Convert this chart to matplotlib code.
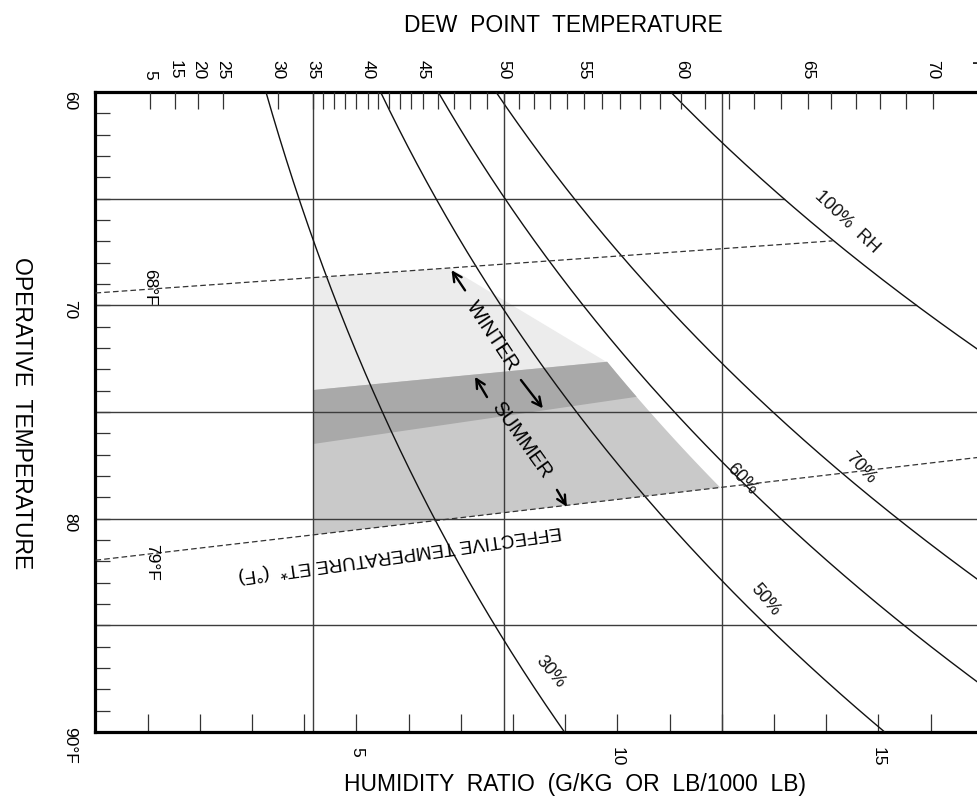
import numpy as np
import matplotlib
matplotlib.use("Agg")
import matplotlib.pyplot as plt

plt.rcParams['font.family'] = ['Liberation Sans', 'DejaVu Sans']

# ---------------- chart values ----------------
# relative humidity curves (fraction) and their labels
rh_curves = [0.30, 0.50, 0.60, 0.70, 1.00]
rh_labels = ['30%', '50%', '60%', '70%', '100%  RH']
rh_label_pos = [(8.71, 87.2), (12.83, 83.8), (12.38, 78.17), (14.65, 77.62), (14.39, 66.1)]
rh_label_rot = [-50, -50, -47, -47, -43.5]

# operative temperature grid (deg F) and humidity ratio grid (g/kg)
temp_grid = [65, 70, 75, 80, 85]
ratio_grid = [4.17, 7.83, 12.0]

# dew point scale: labelled dew points (deg F) and their humidity ratio (g/kg)
dew_f = [5, 15, 20, 25, 30, 35, 40, 45, 50, 55, 60, 65, 70]
dew_w = [1.04, 1.52, 1.97, 2.44, 3.50, 4.17, 5.22, 6.28, 7.83, 9.35, 11.22, 13.65, 16.04]

# effective temperature lines: T = t_left + slope * (W - lower_ratio_limit)
et_values = [68, 79]
et_t_at_left = [68.7, 80.76]
et_slopes = [-0.173, -0.285]

# comfort zone limits
lower_ratio_limit = 4.17          # dew point 35 F
summer_rh_limit = 0.575           # upper humidity limit (relative humidity)
winter_limit_point = (6.83, 68.3) # winter upper humidity limit (W, T) ...
winter_limit_slope = 0.68         # ... and its slope dW/dT (g/kg per F)
summer_cool_edge = (73.97, -0.235)
winter_warm_edge = (76.5, -0.357)

W_MAX = 17.0
P_ATM = 101.325


def psat(t_f):
    tc = (np.asarray(t_f, dtype=float) - 32.0) / 1.8
    return 0.61094 * np.exp(17.625 * tc / (tc + 243.04))


def ratio_at_rh(t_f, rh):
    pw = rh * psat(t_f)
    return 622.0 * pw / (P_ATM - pw)


def summer_limit(t_f):
    return ratio_at_rh(t_f, summer_rh_limit)


def winter_limit(t_f):
    line = winter_limit_point[0] + winter_limit_slope * (np.asarray(t_f, dtype=float) - winter_limit_point[1])
    return np.minimum(line, summer_limit(t_f))


def edge_temp(edge, w):
    t0, s = edge
    return t0 + s * (np.asarray(w, dtype=float) - lower_ratio_limit)


def cross(edge, limit):
    lo, hi = lower_ratio_limit, 16.5
    for _ in range(80):
        mid = 0.5 * (lo + hi)
        if limit(edge_temp(edge, mid)) - mid > 0:
            lo = mid
        else:
            hi = mid
    return 0.5 * (lo + hi)


def zone_polygon(cool, warm, limit):
    w1 = cross(cool, limit)
    w2 = cross(warm, limit)
    t1 = float(edge_temp(cool, w1))
    t2 = float(edge_temp(warm, w2))
    ts = np.linspace(t1, t2, 120)
    ws = limit(ts)
    xs = [lower_ratio_limit] + list(ws) + [lower_ratio_limit]
    ys = [float(edge_temp(cool, lower_ratio_limit))] + list(ts) + [float(edge_temp(warm, lower_ratio_limit))]
    return xs, ys


et_edges = [(t, s) for t, s in zip(et_t_at_left, et_slopes)]

# ---------------- figure ----------------
fig = plt.figure(figsize=(9.78, 8.01), dpi=100)
ax = fig.add_axes([95.5 / 978, 69 / 801, 17 * 52.2 / 978, 640 / 801])
ax.set_xlim(0, W_MAX)
ax.set_ylim(90, 60)

# comfort zones: winter, summer and their overlap
xs, ys = zone_polygon(et_edges[0], winter_warm_edge, winter_limit)
ax.fill(xs, ys, color='#ececec', lw=0, zorder=1)
xs, ys = zone_polygon(summer_cool_edge, et_edges[1], summer_limit)
ax.fill(xs, ys, color='#c9c9c9', lw=0, zorder=1.1)
xs, ys = zone_polygon(summer_cool_edge, winter_warm_edge, summer_limit)
ax.fill(xs, ys, color='#a9a9a9', lw=0, zorder=1.2)

# grid lines
for t in temp_grid:
    wend = min(W_MAX, float(ratio_at_rh(t, 1.0)))
    ax.plot([0, wend], [t, t], color='#3c3c3c', lw=1.0, zorder=2)
for w in ratio_grid:
    ax.axvline(w, color='#3c3c3c', lw=1.0, zorder=2)

# relative humidity curves
tt = np.linspace(60, 90, 400)
for rh in rh_curves:
    ax.plot(ratio_at_rh(tt, rh), tt, color='#111111', lw=1.0, zorder=3)
for lab, (lw_, lt), rot in zip(rh_labels, rh_label_pos, rh_label_rot):
    ax.text(lw_, lt, lab, rotation=rot, rotation_mode='anchor', ha='center', va='center',
            fontsize=13, color='#111111', zorder=5)

# effective temperature lines (dashed)
for edge in et_edges:
    ww = np.linspace(0, W_MAX + 1, 400)
    te = edge_temp(edge, ww)
    keep = ww <= ratio_at_rh(te, 1.0)
    ax.plot(ww[keep], te[keep], color='#333333', lw=0.9, ls=(0, (4.5, 2.5)), zorder=3)

ax.text(1.04, 69.16, '68°F', rotation=-90, ha='center', va='center', fontsize=12.5, zorder=5)
ax.text(1.08, 82.05, '79°F', rotation=-90, ha='center', va='center', fontsize=12.5, zorder=5)
ax.text(5.83, 81.6, 'EFFECTIVE TEMPERATURE ET*  (°F)', rotation=188, rotation_mode='anchor',
        ha='center', va='center', fontsize=13.5, zorder=5)

# season arrows
arrow_kw = dict(arrowstyle='->', lw=1.7, color='black', shrinkA=0, shrinkB=0, mutation_scale=16)
ax.annotate('', xy=(6.82, 68.35), xytext=(7.08, 69.30), arrowprops=arrow_kw, zorder=6)
ax.annotate('', xy=(8.57, 74.83), xytext=(8.15, 73.50), arrowprops=arrow_kw, zorder=6)
ax.text(7.61, 71.42, 'WINTER', rotation=-56.5, rotation_mode='anchor', ha='center', va='center',
        fontsize=14.5, zorder=6)
ax.annotate('', xy=(7.27, 73.35), xytext=(7.50, 74.30), arrowprops=arrow_kw, zorder=6)
ax.annotate('', xy=(9.03, 79.44), xytext=(8.84, 78.65), arrowprops=arrow_kw, zorder=6)
ax.text(8.16, 76.31, 'SUMMER', rotation=-54.5, rotation_mode='anchor', ha='center', va='center',
        fontsize=14.5, zorder=6)

# frame
for side in ['top', 'left', 'bottom']:
    ax.spines[side].set_linewidth(2.3)
ax.spines['right'].set_visible(False)

# bottom scale: humidity ratio
ax.set_xticks(np.arange(1, 17))
ax.set_xticklabels(['5' if v == 5 else '10' if v == 10 else '15' if v == 15 else ''
                    for v in range(1, 17)], rotation=-90, fontsize=12.5)
ax.tick_params(axis='x', direction='in', length=13, width=0.9, pad=11, color='#333333')

# left scale: operative temperature
ax.set_yticks(np.arange(61, 90))
ax.set_yticklabels([])
ax.tick_params(axis='y', direction='in', length=10.5, width=0.9, color='#333333')
ytr = ax.get_yaxis_transform()
for t, lab in zip([60.4, 70.2, 80.2], ['60', '70', '80']):
    ax.text(-0.0287, t, lab, transform=ytr, rotation=-90, ha='center', va='center', fontsize=12.5)
ax.text(-0.0287, 89.75, '90°F', transform=ytr, rotation=-90, ha='center', va='top', fontsize=12.5)

# top scale: dew point temperature
ax2 = ax.twiny()
ax2.set_xlim(0, W_MAX)
ax2.set_xticks(dew_w)
ax2.set_xticklabels([str(d) for d in dew_f], rotation=-90, fontsize=12.5)
minor_f = [d for d in range(36, 70) if d not in dew_f]
minor_w = np.exp(np.interp(minor_f, dew_f, np.log(dew_w)))
ax2.set_xticks(minor_w, minor=True)
ax2.tick_params(axis='x', which='both', direction='in', length=12, width=0.9, pad=9, color='#333333')
for s in ax2.spines.values():
    s.set_visible(False)
fig.text(976 / 978, 1 - 63 / 801, '°F', rotation=-90, ha='center', va='center', fontsize=12.5)

# axis titles
fig.text(563.5 / 978, 1 - 26 / 801, 'DEW  POINT  TEMPERATURE', ha='center', va='center', fontsize=16.5)
fig.text(21 / 978, 1 - 413 / 801, 'OPERATIVE  TEMPERATURE', rotation=-90, ha='center', va='center',
         fontsize=16.5)
fig.text(575 / 978, 1 - 785 / 801, 'HUMIDITY  RATIO  (G/KG  OR  LB/1000  LB)', ha='center',
         va='center', fontsize=16.5)

fig.savefig('out.png', dpi=100)
